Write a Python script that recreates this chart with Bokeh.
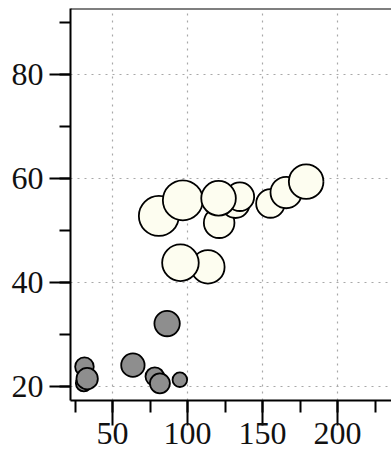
from bokeh.plotting import figure
from bokeh.models import ColumnDataSource, SingleIntervalTicker, LinearAxis, Range1d, Grid, Span
from bokeh.embed import file_html
from bokeh.resources import INLINE

# --- data ---
grey_x = [31.3, 30.9, 33.1, 63.6, 78.2, 81.6, 94.9, 86.4]
grey_y = [23.8, 20.6, 21.5, 24.1, 21.9, 20.6, 21.3, 32.1]
grey_w = [9.3, 8.0, 10.7, 11.7, 9.3, 10.0, 7.3, 12.7]

cream_x = [113.6, 95.3, 80.9, 96.9, 121.1, 132.0, 134.9, 120.7, 155.3, 165.8, 179.1]
cream_y = [43.0, 43.8, 52.8, 55.8, 51.5, 55.1, 56.5, 56.2, 55.2, 57.3, 59.4]
cream_w = [16.7, 18.3, 20.0, 20.0, 15.3, 14.0, 14.3, 17.3, 14.3, 15.7, 17.3]

X_MIN, X_MAX = 22, 236
Y_MIN, Y_MAX = 17.3, 92.7
SCALE = 2.0  # weight -> marker diameter (px)

grey_src = ColumnDataSource(dict(x=grey_x, y=grey_y, s=[w * SCALE for w in grey_w]))
cream_src = ColumnDataSource(dict(x=cream_x, y=cream_y, s=[w * SCALE for w in cream_w]))

p = figure(frame_width=321, frame_height=392, output_backend="svg", toolbar_location=None,
           x_range=Range1d(X_MIN, X_MAX), y_range=Range1d(Y_MIN, Y_MAX),
           x_axis_type=None, y_axis_type=None,
           min_border_left=70, min_border_right=0, min_border_top=8, min_border_bottom=0)
p.outline_line_color = None
p.background_fill_color = "white"
p.border_fill_color = "white"

FONT = "Liberation Serif"

xaxis = LinearAxis(ticker=SingleIntervalTicker(interval=50, num_minor_ticks=2))
yaxis = LinearAxis(ticker=SingleIntervalTicker(interval=20, num_minor_ticks=2))
for ax in (xaxis, yaxis):
    ax.axis_line_width = 2
    ax.axis_line_color = "black"
    ax.major_tick_line_width = 2
    ax.minor_tick_line_width = 2
    ax.major_tick_line_color = "black"
    ax.minor_tick_line_color = "black"
    ax.major_tick_in = 0
    ax.minor_tick_in = 0
    ax.major_label_text_font = FONT
    ax.major_label_text_font_size = "32px"
    ax.major_label_text_color = "#111111"
xaxis.major_tick_out = 25
xaxis.minor_tick_out = 12
xaxis.major_label_standoff = -3
yaxis.major_tick_out = 21
yaxis.minor_tick_out = 11
yaxis.major_label_standoff = 6
p.add_layout(xaxis, "below")
p.add_layout(yaxis, "left")

# top border of the frame
p.add_layout(Span(location=Y_MAX, dimension="width", line_color="black", line_width=2))

for dim, ax in ((0, xaxis), (1, yaxis)):
    g = Grid(dimension=dim, ticker=ax.ticker)
    g.grid_line_color = "#a8a8a8"
    g.grid_line_dash = "2 5"
    g.grid_line_width = 1.2
    p.add_layout(g)

p.scatter("x", "y", size="s", source=grey_src, fill_color="#8e8e8e",
          line_color="black", line_width=1.8)
p.scatter("x", "y", size="s", source=cream_src, fill_color="#fdfdf0",
          line_color="black", line_width=1.8)

open("out.html", "w").write(file_html(p, INLINE))
